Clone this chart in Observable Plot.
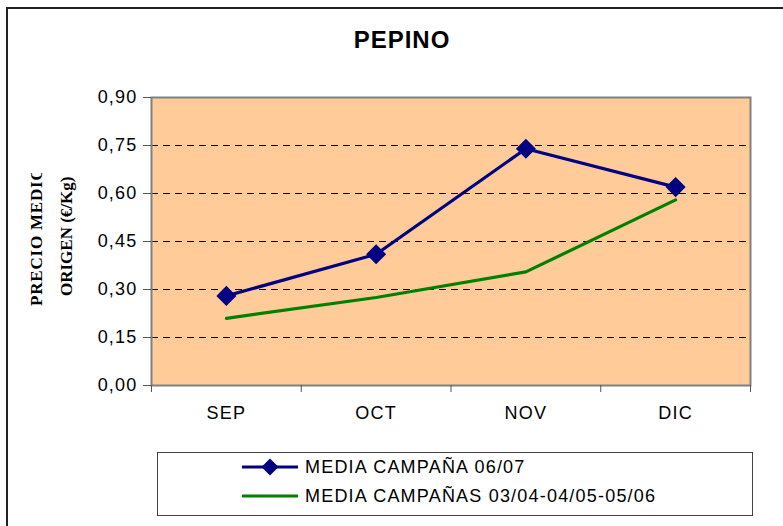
<!DOCTYPE html>
<html>
<head>
<meta charset="utf-8">
<script src="https://cdn.jsdelivr.net/npm/d3@7"></script>
<script src="https://cdn.jsdelivr.net/npm/@observablehq/plot@0.6"></script>
<style>
  html, body { margin: 0; padding: 0; background: #fff; }
  #wrap { position: relative; width: 783px; height: 526px; overflow: hidden; font-family: Arial, "Liberation Sans", sans-serif; }
  #border { position: absolute; left: 6px; top: 7px; width: 900px; height: 700px; border: 2px solid #222; box-sizing: border-box; }
  #title { position: absolute; left: 0; width: 804px; top: 26px; text-align: center; font-weight: bold; font-size: 24px; letter-spacing: 1px; }
  #ylab { position: absolute; left: 20px; top: 173px; width: 60px; height: 150px; overflow: hidden; }
  #ylab div { position: absolute; white-space: nowrap; font-family: "Liberation Serif", "Times New Roman", serif; font-weight: bold; font-size: 17px; transform-origin: 0 0; transform: rotate(-90deg); }
  #legend { position: absolute; left: 157px; top: 452px; width: 596px; height: 64px; border: 1px solid #444; box-sizing: border-box; background: #fff; }
  .lrow { position: absolute; left: 82px; height: 20px; display: flex; align-items: center; font-size: 18px; letter-spacing: 1.2px; }
  .lrow span { margin-left: 5px; }
  #chart { position: absolute; left: 0; top: 0; }
  #chart svg text { letter-spacing: 1.2px; }
</style>
</head>
<body>
<div id="wrap">
  <div id="border"></div>
  <div id="chart"></div>
  <div id="title">PEPINO</div>
  <div id="ylab"></div>
  <div id="legend"></div>
</div>
<script>
const months = ["SEP", "OCT", "NOV", "DIC"];
const media0607 = [0.28, 0.41, 0.74, 0.62];
const media3 = [0.21, 0.275, 0.355, 0.58];
const seriesNames = ["MEDIA CAMPAÑA 06/07", "MEDIA CAMPAÑAS 03/04-04/05-05/06"];
const seriesColors = ["#000080", "#008000"];
const yTicks = [0, 0.15, 0.30, 0.45, 0.60, 0.75, 0.90];
const yLabelLines = ["PRECIO MEDIO", "ORIGEN (€/Kg)"];
const titleText = "PEPINO";

const rows = months.flatMap((m, i) => [
  {i, month: m, value: media0607[i], series: seriesNames[0]},
  {i, month: m, value: media3[i], series: seriesNames[1]}
]);
const fmt = v => v.toFixed(2).replace(".", ",");

const plot = Plot.plot({
  width: 783,
  height: 526,
  marginLeft: 151,
  marginRight: 33,
  marginTop: 97,
  marginBottom: 141,
  style: {background: "transparent", fontFamily: "Arial, 'Liberation Sans', sans-serif", overflow: "visible"},
  x: {type: "linear", domain: [-0.5, months.length - 0.5]},
  y: {domain: [0, 0.9]},
  marks: [
    Plot.frame({fill: "#FFCC99", stroke: null}),
    Plot.gridY(yTicks.slice(1, -1), {stroke: "#000", strokeOpacity: 1, strokeDasharray: "7,5", strokeWidth: 1}),
    Plot.frame({stroke: "#808080", strokeWidth: 2}),
    Plot.axisY(yTicks, {tickSize: 8, tickPadding: 6, tickFormat: fmt, fontSize: 18, fill: "#000", stroke: "#555", label: null}),
    Plot.axisX(d3.range(-0.5, months.length), {tickSize: 7, tickFormat: () => "", stroke: "#555", label: null}),
    Plot.axisX(d3.range(months.length), {tickSize: 0, tickPadding: 21, tickFormat: i => months[i], fontSize: 18, fill: "#000", label: null}),
    Plot.line(rows.filter(d => d.series === seriesNames[1]), {x: "i", y: "value", stroke: seriesColors[1], strokeWidth: 3.2}),
    Plot.line(rows.filter(d => d.series === seriesNames[0]), {x: "i", y: "value", stroke: seriesColors[0], strokeWidth: 3.2}),
    Plot.dot(rows.filter(d => d.series === seriesNames[0]), {x: "i", y: "value", symbol: "square", r: 8, rotate: 45, fill: seriesColors[0], stroke: null})
  ]
});
document.getElementById("chart").appendChild(plot);
document.getElementById("title").textContent = titleText;

// Y label (clipped at the top like the original)
const ylab = document.getElementById("ylab");
const centerY = 236 - 173;
const lineX = [7, 37];
const spacing = [0.8, 0];
yLabelLines.forEach((t, k) => {
  const d = document.createElement("div");
  d.textContent = t;
  d.style.letterSpacing = spacing[k] + "px";
  ylab.appendChild(d);
  const w = d.getBoundingClientRect().height;
  d.style.left = lineX[k] + "px";
  d.style.top = (centerY + w / 2) + "px";
});

// Legend
const legend = document.getElementById("legend");
seriesNames.forEach((name, k) => {
  const row = document.createElement("div");
  row.className = "lrow";
  row.style.top = (4 + k * 29) + "px";
  const sw = k === 0
    ? `<svg width="60" height="20"><line x1="2" y1="10" x2="58" y2="10" stroke="${seriesColors[k]}" stroke-width="3.2"/><rect x="24" y="4" width="12" height="12" fill="${seriesColors[k]}" transform="rotate(45 30 10)"/></svg>`
    : `<svg width="60" height="20"><line x1="2" y1="10" x2="58" y2="10" stroke="${seriesColors[k]}" stroke-width="3.2"/></svg>`;
  row.innerHTML = sw + `<span></span>`;
  row.querySelector("span").textContent = name;
  legend.appendChild(row);
});
</script>
</body>
</html>
